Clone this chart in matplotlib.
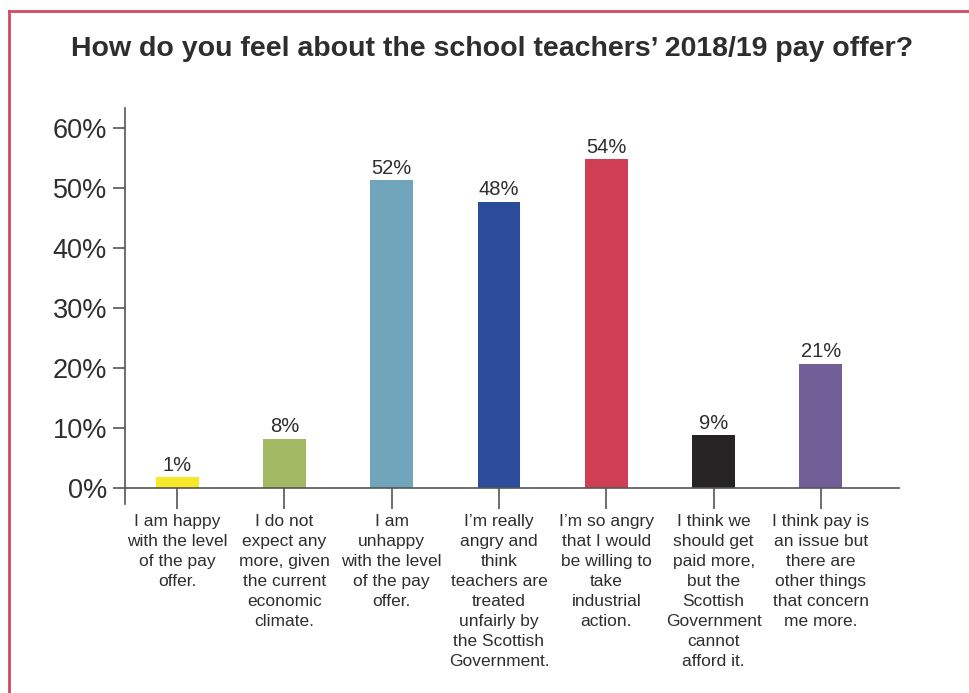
import matplotlib
matplotlib.use("Agg")
import matplotlib.pyplot as plt
from matplotlib.lines import Line2D

plt.rcParams['font.family'] = ['Liberation Sans', 'DejaVu Sans']

categories = [
    "I am happy\nwith the level\nof the pay\noffer.",
    "I do not\nexpect any\nmore, given\nthe current\neconomic\nclimate.",
    "I am\nunhappy\nwith the level\nof the pay\noffer.",
    "I\u2019m really\nangry and\nthink\nteachers are\ntreated\nunfairly by\nthe Scottish\nGovernment.",
    "I\u2019m so angry\nthat I would\nbe willing to\ntake\nindustrial\naction.",
    "I think we\nshould get\npaid more,\nbut the\nScottish\nGovernment\ncannot\nafford it.",
    "I think pay is\nan issue but\nthere are\nother things\nthat concern\nme more.",
]
values = [1.8, 8.2, 51.3, 47.7, 54.8, 8.8, 20.7]
value_labels = ["1%", "8%", "52%", "48%", "54%", "9%", "21%"]
colors = ["#f7e92a", "#a2b862", "#70a5bc", "#2b4b9b", "#cf3e55", "#262425", "#735f97"]
yticks = [0, 10, 20, 30, 40, 50, 60]
ytick_labels = ["0%", "10%", "20%", "30%", "40%", "50%", "60%"]

text_color = "#2e2e2e"
axis_color = "#555555"

fig = plt.figure(figsize=(9.69, 6.93), dpi=100)
ax = fig.add_axes([0.129, 0.2727, 0.799, 0.5715])

x = list(range(len(values)))
ax.bar(x, values, width=0.40, color=colors)
for xi, v, lab in zip(x, values, value_labels):
    ax.text(xi, v + 0.4, lab, ha='center', va='bottom', fontsize=14.5, color=text_color)

for s in ['top', 'right']:
    ax.spines[s].set_visible(False)
ax.spines['bottom'].set_position(('data', 0))
ax.spines['bottom'].set_color(axis_color)
ax.spines['left'].set_color(axis_color)
ax.spines['bottom'].set_linewidth(1.2)
ax.spines['left'].set_linewidth(1.2)
ax.tick_params(axis='x', direction='out', length=15, width=1.2, color=axis_color,
               labelbottom=False)
ax.tick_params(axis='y', direction='out', length=9, width=1.2, color=axis_color, pad=4,
               labelsize=19.5, labelcolor=text_color)

ax.set_xlim(-0.485, 6.73)
ax.set_ylim(-2.7, 63.3)
ax.set_yticks(yticks)
ax.set_yticklabels(ytick_labels)
ax.set_xticks(x)

for xi, cat in zip(x, categories):
    ax.text(xi, -0.024, cat, transform=ax.get_xaxis_transform(), ha='center', va='top',
            multialignment='center', fontsize=12.5, linespacing=1.42, color=text_color,
            clip_on=False)

fig.text(0.508, 0.930, "How do you feel about the school teachers\u2019 2018/19 pay offer?",
         ha='center', va='center', fontsize=20.5, fontweight='bold', color=text_color)

border = "#d24b62"
fig.add_artist(Line2D([9/969, 1.0], [1 - 11/693, 1 - 11/693], color=border, lw=2, transform=fig.transFigure))
fig.add_artist(Line2D([9/969, 9/969], [1 - 11/693, 0.0], color=border, lw=2, transform=fig.transFigure))

fig.savefig("out.png", dpi=100)
